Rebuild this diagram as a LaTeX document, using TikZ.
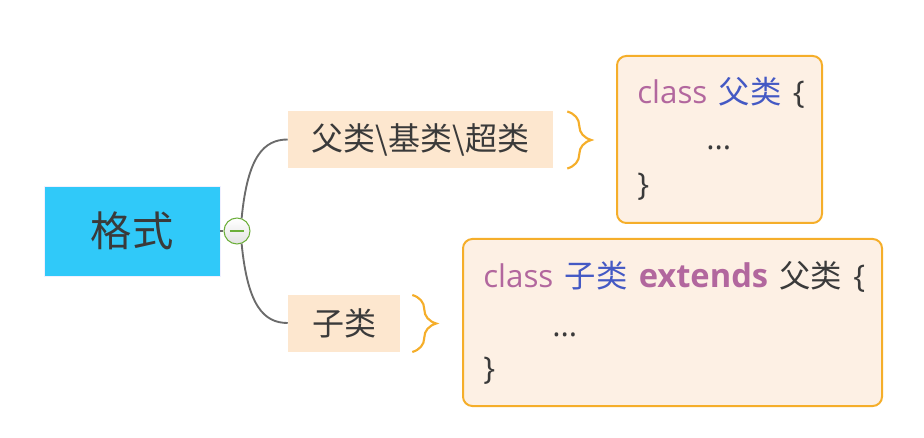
\documentclass[tikz,border=0pt]{standalone}
\usepackage{fontspec}
\newfontfamily\cjk{Noto Sans CJK SC}
\newfontfamily\lat{Open Sans}
\usetikzlibrary{positioning, decorations.pathreplacing}

\definecolor{rootblue}{HTML}{30C9F9}
\definecolor{topicfill}{HTML}{FDE7CF}
\definecolor{codefill}{HTML}{FDF0E4}
\definecolor{codeline}{HTML}{F5AE2A}
\definecolor{kwpurple}{HTML}{B2679E}
\definecolor{nameblue}{HTML}{4459C4}
\definecolor{txtgray}{HTML}{3A3A3A}
\definecolor{linkgray}{HTML}{6B6B6B}
\definecolor{togglegreen}{HTML}{6CAF3A}

\newcommand{\gap}{\hspace{8.5pt}}

\begin{document}
\begin{tikzpicture}[
  x=0.75pt, y=-0.75pt,
  every node/.style={font=\cjk, text=txtgray, inner sep=0pt},
  root/.style={
    rectangle,
    draw=blue!6,
    fill=rootblue,
    minimum width=132pt,
    minimum height=67.5pt,
    font=\cjk\fontsize{31}{36}\selectfont
  },
  topic/.style={
    rectangle,
    fill=topicfill,
    minimum height=42.75pt,
    font=\cjk\fontsize{24}{28}\selectfont
  },
  codebox/.style={
    rectangle,
    draw=codeline,
    line width=1.5pt,
    rounded corners=7pt,
    fill=codefill,
    minimum height=125.25pt
  },
  codetext/.style={
    anchor=base west,
    font=\cjk\fontsize{23.5}{28}\selectfont
  },
  toggle/.style={
    circle,
    draw=togglegreen,
    line width=0.8pt,
    top color=white,
    bottom color=gray!22,
    minimum size=19.5pt
  },
  link/.style={linkgray, line width=1.4pt},
  bracket/.style={
    codeline, line width=1.6pt,
    decorate, decoration={brace, amplitude=18pt, aspect=0.5}
  }
]

\useasboundingbox (0,0) rectangle (924,438);

% ------------------------------------------------------------
% root and toggle
% ------------------------------------------------------------

\node[root] (geshi) at (132,231) {格式};
\node[toggle] (toggle) at (237,231) {};
\draw[togglegreen, line width=0.9pt] ([xshift=-5.5pt]toggle.center) -- ([xshift=5.5pt]toggle.center);

% ------------------------------------------------------------
% topics
% ------------------------------------------------------------

\node[topic, minimum width=198.75pt] (parent) at (420.5,139.5) {父类\textbackslash 基类\textbackslash 超类};
\node[topic, minimum width=84pt] (child) at (344,323) {子类};

\draw[link] (geshi.east) -- (toggle.west);
\draw[link] (toggle.70) .. controls +(6,-62) and +(-24,0) .. (parent.west);
\draw[link] (toggle.-70) .. controls +(6,62) and +(-24,0) .. (child.west);

% ------------------------------------------------------------
% code boxes
% ------------------------------------------------------------

\node[codebox, minimum width=153.75pt] (parentcode) at (719.5,139.5) {};
\node[codebox, minimum width=314.25pt] (childcode) at (672.5,322.5) {};

\node[codetext] (pline1) at (637,104) {\textcolor{kwpurple}{\lat class}\gap\textcolor{nameblue}{父类}\gap{\lat\{}};
\node[codetext] (pline2) at (706,150) {\lat...};
\node[codetext] (pline3) at (637,196) {\lat\}};

\node[codetext] (cline1) at (483,287) {\textcolor{kwpurple}{\lat class}\gap\textcolor{nameblue}{子类}\gap\textcolor{kwpurple}{\lat\bfseries\fontsize{24.5}{28}\selectfont extends}\gap 父类\gap{\lat\{}};
\node[codetext] (cline2) at (552,336) {\lat...};
\node[codetext] (cline3) at (483,379) {\lat\}};

% braces
\draw[bracket] (parent.east) ++(14,-28) coordinate (pb1) -- ++(0,57) coordinate (pb2);
\draw[bracket] (child.east) ++(12,-28) coordinate (cb1) -- ++(0,57) coordinate (cb2);

\end{tikzpicture}
\end{document}
